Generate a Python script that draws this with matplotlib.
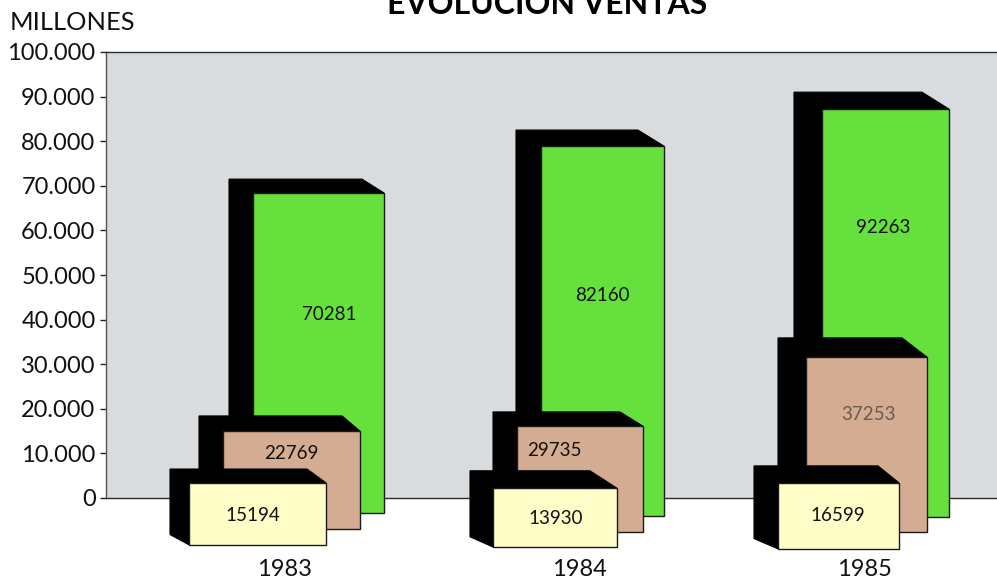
import matplotlib
matplotlib.use("Agg")
import matplotlib.pyplot as plt
from matplotlib.patches import Polygon, Rectangle

plt.rcParams['font.family'] = ['Lato', 'DejaVu Sans']

W, H = 997, 583
years = ['1983', '1984', '1985']
year_x = [285, 579, 864]
y_ticks = list(range(0, 100001, 10000))
y_tick_labels = ['0', '10.000', '20.000', '30.000', '40.000', '50.000',
                 '60.000', '70.000', '80.000', '90.000', '100.000']

# Printed values
green_values = [70281, 82160, 92263]
tan_values = [22769, 29735, 37253]
yellow_values = [15194, 13930, 16599]

# Levels of the drawn boxes
green_back_top = [71500, 82500, 91000]
green_front_top = [68400, 78900, 87200]
green_bottom = [-3400, -4000, -4300]
tan_back_top = [18400, 19300, 35900]
tan_front_top = [15000, 16100, 31600]
tan_bottom = [-7000, -7600, -7600]
yellow_back_top = [6500, 6100, 7200]
yellow_front_top = [3400, 2200, 3400]
yellow_bottom = [-10500, -11000, -11400]

# Layout (x positions along the axis)
green_x = dict(back=[229, 516, 794], front=[253, 541, 822], shoulder=[362, 638, 922], right=[384, 664, 949])
tan_x = dict(back=[199, 493, 778], front=[223, 517, 806], shoulder=[342, 620, 902], right=[360, 643, 927])
yellow_x = dict(back=[170, 470, 754], front=[189, 493, 778], shoulder=[307, 590, 878], right=[326, 617, 899])
green_lab = [(329, 41250), (602, 45500), (883, 60700)]
tan_lab = [(291, 10000), (554, 10600), (868, 18700)]
yellow_lab = [(253, -4000), (556, -4500), (838, -4000)]
bottom_drop = 2300

GREEN, TAN, YELLOW = '#66E03C', '#D4AC92', '#FFFDC8'
BG = '#D9DCDE'

fig = plt.figure(figsize=(W / 100, H / 100), dpi=100, facecolor='white')
ax = fig.add_axes([106 / W, 1 - 498 / H, (W - 106) / W, (498 - 52) / H])
ax.set_xlim(106, 997)
ax.set_ylim(0, 100000)
ax.set_facecolor(BG)

for s in ['left', 'top', 'bottom']:
    ax.spines[s].set_color('#2a2a2a')
    ax.spines[s].set_linewidth(1.0)
ax.spines['left'].set_color('#555555')
ax.spines['right'].set_visible(False)

ax.set_yticks(y_ticks)
ax.set_yticklabels(y_tick_labels, fontsize=17, color='#111111')
ax.tick_params(axis='y', length=4.5, width=1, pad=3, color='#222222')
ax.set_xticks(year_x)
ax.set_xticklabels(years, fontsize=17, color='#111111')
ax.tick_params(axis='x', length=0, pad=44)


def box(xs, back_top, front_top, bottom, i, color, z):
    poly = [(xs['back'][i], back_top[i]), (xs['shoulder'][i], back_top[i]),
            (xs['right'][i], front_top[i]), (xs['front'][i], bottom[i]),
            (xs['back'][i], bottom[i] + bottom_drop)]
    ax.add_patch(Polygon(poly, closed=True, facecolor='black', edgecolor='black',
                         linewidth=0.8, clip_on=False, zorder=z))
    ax.add_patch(Rectangle((xs['front'][i], bottom[i]),
                           xs['right'][i] - xs['front'][i], front_top[i] - bottom[i],
                           facecolor=color, edgecolor='#1a1a1a', linewidth=1.0,
                           clip_on=False, zorder=z + 0.1))


for i in range(3):
    box(green_x, green_back_top, green_front_top, green_bottom, i, GREEN, 3)
    box(tan_x, tan_back_top, tan_front_top, tan_bottom, i, TAN, 4)
    box(yellow_x, yellow_back_top, yellow_front_top, yellow_bottom, i, YELLOW, 5)
    ax.text(*green_lab[i], str(green_values[i]), ha='center', va='center',
            fontsize=13.5, color='#111111', zorder=6)
    ax.text(*tan_lab[i], str(tan_values[i]), ha='center', va='center',
            fontsize=13.5, color='#6b5a50' if i == 2 else '#111111', zorder=6)
    ax.text(*yellow_lab[i], str(yellow_values[i]), ha='center', va='center',
            fontsize=13.5, color='#111111', zorder=6, clip_on=False)

fig.text(10 / W, 1 - 23 / H, 'MILLONES', fontsize=18.3, color='#111111', ha='left', va='center')
fig.text(547 / W, 1 - 4 / H, 'EVOLUCION VENTAS', fontsize=23, fontweight='bold',
         color='black', ha='center', va='center')

fig.savefig('out.png', dpi=100)
